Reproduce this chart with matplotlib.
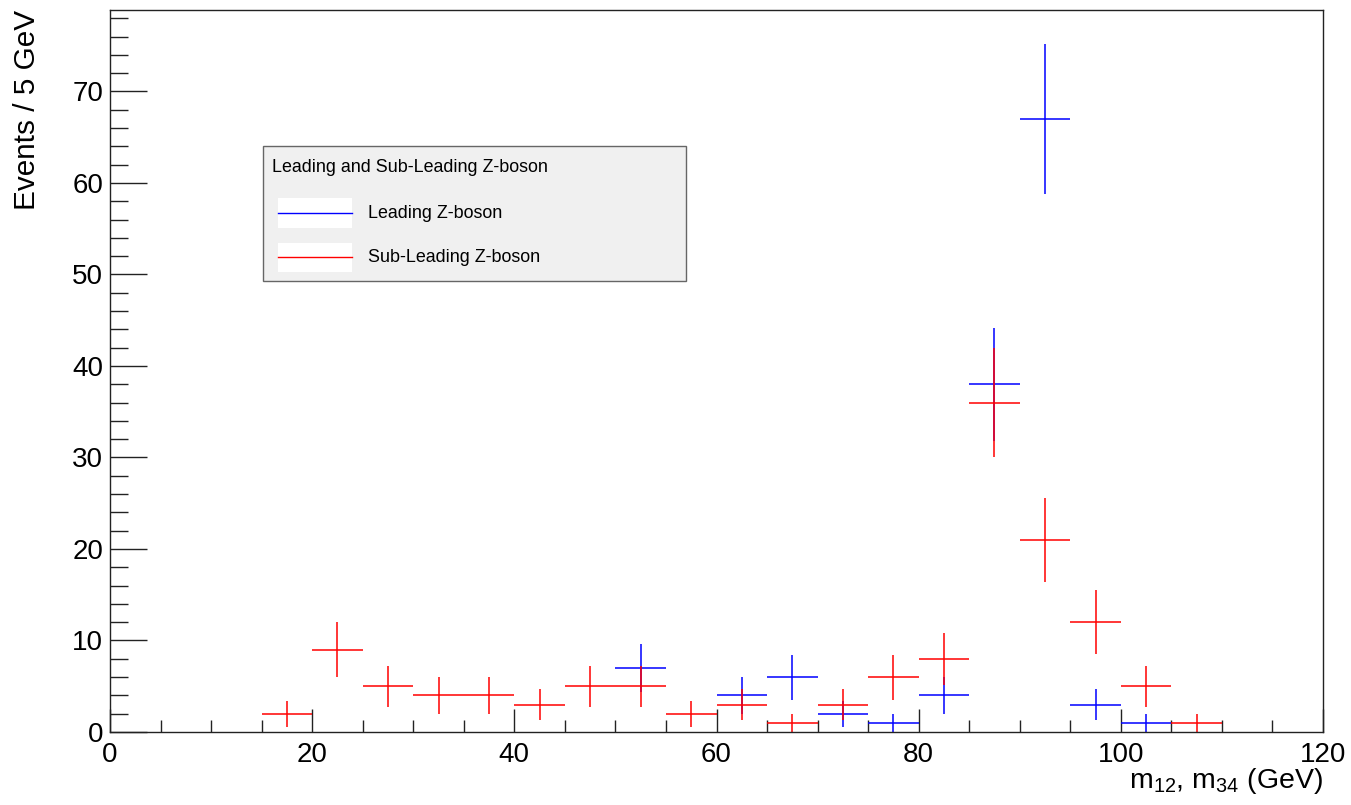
import numpy as np
import matplotlib
matplotlib.use("Agg")
import matplotlib.pyplot as plt
from matplotlib.patches import Rectangle
from matplotlib.lines import Line2D
from matplotlib.ticker import MultipleLocator

plt.rcParams['font.family'] = ['Liberation Sans', 'DejaVu Sans']
plt.rcParams['mathtext.fontset'] = 'custom'
plt.rcParams['mathtext.rm'] = 'Liberation Sans'
plt.rcParams['mathtext.it'] = 'Liberation Sans'

# ---- data ----
bin_width = 5.0
bin_low = np.arange(0, 120, 5)
leading_counts = [0, 0, 0, 0, 0, 0, 0, 0, 0, 0, 7, 0, 4, 6, 2, 1, 4, 38, 67, 3, 1, 0, 0, 0]
subleading_counts = [0, 0, 0, 2, 9, 5, 4, 4, 3, 5, 5, 2, 3, 1, 3, 6, 8, 36, 21, 12, 5, 1, 0, 0]
legend_title = "Leading and Sub-Leading Z-boson"
labels = ["Leading Z-boson", "Sub-Leading Z-boson"]
colors = ["#0000ff", "#ff0000"]

W, H = 1351, 805
fig = plt.figure(figsize=(W / 100, H / 100), dpi=100)
L, R, T, B = 110, 1323, 10, 732
ax = fig.add_axes([L / W, 1 - B / H, (R - L) / W, (B - T) / H])

centers = bin_low + bin_width / 2
for counts, col in zip([leading_counts, subleading_counts], colors):
    c = np.array(counts, dtype=float)
    m = c > 0
    ax.errorbar(centers[m], c[m], xerr=bin_width / 2, yerr=np.sqrt(c[m]),
                fmt='none', ecolor=col, elinewidth=1.1, capsize=0)

ax.set_xlim(0, 120)
ax.set_ylim(0, 78.9)
ax.xaxis.set_major_locator(MultipleLocator(20))
ax.xaxis.set_minor_locator(MultipleLocator(5))
ax.yaxis.set_major_locator(MultipleLocator(10))
ax.yaxis.set_minor_locator(MultipleLocator(2))
ax.tick_params(axis='both', which='both', direction='in', colors='#222222', labelcolor='black', labelsize=20)
ax.tick_params(axis='x', which='major', length=16.6, width=1, pad=7)
ax.tick_params(axis='x', which='minor', length=8.6, width=1)
ax.tick_params(axis='y', which='major', length=26.6, width=1, pad=5)
ax.tick_params(axis='y', which='minor', length=13.3, width=1)
for s in ax.spines.values():
    s.set_linewidth(1)
    s.set_color('#222222')

fig.text(27 / W, 1 - 10 / H, "Events / 5 GeV", rotation=90, ha='center', va='top', fontsize=21.4)
fig.text(R / W, 1 - 788 / H, r"m$_{12}$, m$_{34}$ (GeV)", ha='right', va='baseline', fontsize=20.5)

# ---- legend ----
def fx(px):
    return px / W

def fy(py):
    return 1 - py / H

fig.add_artist(Rectangle((fx(263), fy(281)), fx(686) - fx(263), fy(146) - fy(281),
                         transform=fig.transFigure, facecolor='#f0f0f0', edgecolor='#666666', lw=1))
fig.text(fx(272), fy(168), legend_title, ha='left', va='center', fontsize=12.9)
for i, (lab, col) in enumerate(zip(labels, colors)):
    yc = 213 + i * 44.5
    fig.add_artist(Rectangle((fx(278), fy(yc + 15)), fx(352) - fx(278), fy(yc - 15) - fy(yc + 15),
                             transform=fig.transFigure, facecolor='white', edgecolor='none'))
    fig.add_artist(Line2D([fx(278), fx(352)], [fy(yc), fy(yc)], transform=fig.transFigure, color=col, lw=1))
    fig.text(fx(368), fy(yc), lab, ha='left', va='center', fontsize=12.9)

fig.savefig("out.png", dpi=100)
